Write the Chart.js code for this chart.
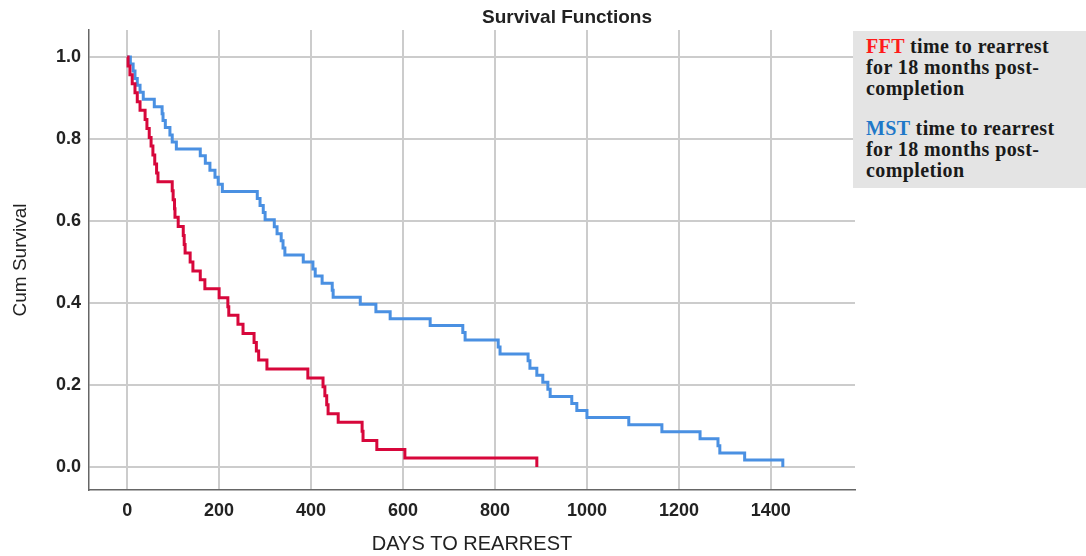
<!DOCTYPE html>
<html>
<head>
<meta charset="utf-8">
<script src="https://cdn.jsdelivr.net/npm/chart.js@4/dist/chart.umd.min.js"></script>
<style>
  html, body { margin: 0; padding: 0; background: #ffffff; }
  #wrap { position: relative; width: 1086px; height: 556px; }
  #legend {
    position: absolute; left: 853px; top: 31px; width: 233px; height: 157px;
    background: #e4e4e4; box-sizing: border-box; padding: 5px 0 0 13px;
    font-family: "Liberation Serif", "DejaVu Serif", serif; font-weight: bold;
    font-size: 20px; line-height: 21px; letter-spacing: 0.4px; color: #1a1a1a;
  }
  #legend p { margin: 0 0 19px 0; }
  .fft { color: #ff1a1a; }
  .mst { color: #1f78c8; }
</style>
</head>
<body>
<div id="wrap">
  <canvas id="c" width="1086" height="556"></canvas>
  <div id="legend">
    <p><span class="fft">FFT</span> time to rearrest<br>for 18 months post-<br>completion</p>
    <p><span class="mst">MST</span> time to rearrest<br>for 18 months post-<br>completion</p>
  </div>
</div>
<script>
// ---- data ----
const fftDays = [0,2,6,11,17,22,28,39,43,48,52,56,60,64,67,98,100,103,104,111,122,124,126,137,143,159,169,200,219,221,241,252,276,281,286,304,393,426,430,434,437,459,511,513,543,604,891];
const fftSurvival = [1.0,0.978,0.957,0.935,0.913,0.891,0.870,0.848,0.826,0.804,0.783,0.761,0.739,0.717,0.696,0.674,0.652,0.630,0.609,0.587,0.565,0.543,0.522,0.500,0.478,0.457,0.435,0.413,0.391,0.370,0.348,0.326,0.304,0.283,0.261,0.239,0.217,0.196,0.174,0.152,0.130,0.109,0.087,0.065,0.043,0.022,0.0];

const mstDays = [0,7,13,17,22,28,35,59,76,78,83,93,98,107,159,170,180,191,198,207,283,289,296,300,320,326,335,339,343,383,404,409,424,446,448,507,541,572,659,730,735,807,811,872,876,891,904,915,920,967,978,1000,1091,1163,1246,1285,1289,1343,1426];
const mstSurvival = [1.000,0.983,0.966,0.948,0.931,0.914,0.897,0.879,0.862,0.845,0.828,0.810,0.793,0.776,0.759,0.741,0.724,0.707,0.690,0.672,0.655,0.638,0.621,0.603,0.586,0.569,0.552,0.534,0.517,0.500,0.483,0.466,0.448,0.431,0.414,0.397,0.379,0.362,0.345,0.328,0.310,0.293,0.276,0.259,0.241,0.224,0.207,0.190,0.172,0.155,0.138,0.121,0.103,0.086,0.069,0.052,0.034,0.017,0.0];

const xTicks = [0,200,400,600,800,1000,1200,1400];
const yTicks = [0.0,0.2,0.4,0.6,0.8,1.0];

const titleText = "Survival Functions";
const xTitle = "DAYS TO REARREST";
const yTitle = "Cum Survival";
// --------------------------------------

const toPoints = (xs, ys) => xs.map((x, i) => ({ x: x, y: ys[i] }));

const titlePlugin = {
  id: 'topTitle',
  afterDraw(chart) {
    const ctx = chart.ctx;
    ctx.save();
    ctx.font = 'bold 19px "Liberation Sans", Arial, sans-serif';
    ctx.fillStyle = '#222222';
    ctx.textAlign = 'center';
    ctx.textBaseline = 'middle';
    ctx.fillText(titleText, 567, 18);
    ctx.restore();
  }
};

new Chart(document.getElementById('c'), {
  type: 'line',
  data: {
    datasets: [
      {
        label: 'FFT',
        data: toPoints(fftDays, fftSurvival),
        borderColor: '#d7073b',
        borderWidth: 3,
        stepped: 'before',
        pointRadius: 0,
        fill: false
      },
      {
        label: 'MST',
        data: toPoints(mstDays, mstSurvival),
        borderColor: '#4a90e2',
        borderWidth: 3,
        stepped: 'before',
        pointRadius: 0,
        fill: false
      }
    ]
  },
  options: {
    responsive: false,
    animation: false,
    layout: { padding: { left: 0, right: 231, top: 30, bottom: 0 } },
    plugins: { legend: { display: false }, tooltip: { enabled: false }, title: { display: false } },
    scales: {
      x: {
        type: 'linear',
        min: -83,
        max: 1583,
        afterBuildTicks: (axis) => { axis.ticks = xTicks.map(v => ({ value: v })); },
        afterFit: (axis) => { axis.height = 66; },
        grid: { color: '#cccccc', lineWidth: 2, drawTicks: false },
        border: { display: true, color: '#666666', width: 1.5 },
        ticks: {
          padding: 10,
          color: '#222222',
          font: { family: '"Liberation Sans", Arial, sans-serif', size: 18, weight: 'bold' },
          maxRotation: 0,
          callback: (v) => String(v)
        },
        title: {
          display: true,
          text: xTitle,
          color: '#222222',
          font: { family: '"Liberation Sans", Arial, sans-serif', size: 20 },
          padding: { top: 0, bottom: 0 }
        }
      },
      y: {
        type: 'linear',
        min: -0.056,
        max: 1.066,
        afterBuildTicks: (axis) => { axis.ticks = yTicks.map(v => ({ value: v })); },
        afterFit: (axis) => { axis.width = 89; },
        grid: { color: '#cccccc', lineWidth: 2, drawTicks: false },
        border: { display: true, color: '#666666', width: 1.5 },
        ticks: {
          padding: 8,
          color: '#222222',
          font: { family: '"Liberation Sans", Arial, sans-serif', size: 18, weight: 'bold' },
          callback: (v) => Number(v).toFixed(1)
        },
        title: {
          display: true,
          text: yTitle,
          color: '#222222',
          font: { family: '"Liberation Sans", Arial, sans-serif', size: 19 },
          padding: { top: 9, bottom: 0 }
        }
      }
    }
  },
  plugins: [titlePlugin]
});
</script>
</body>
</html>
